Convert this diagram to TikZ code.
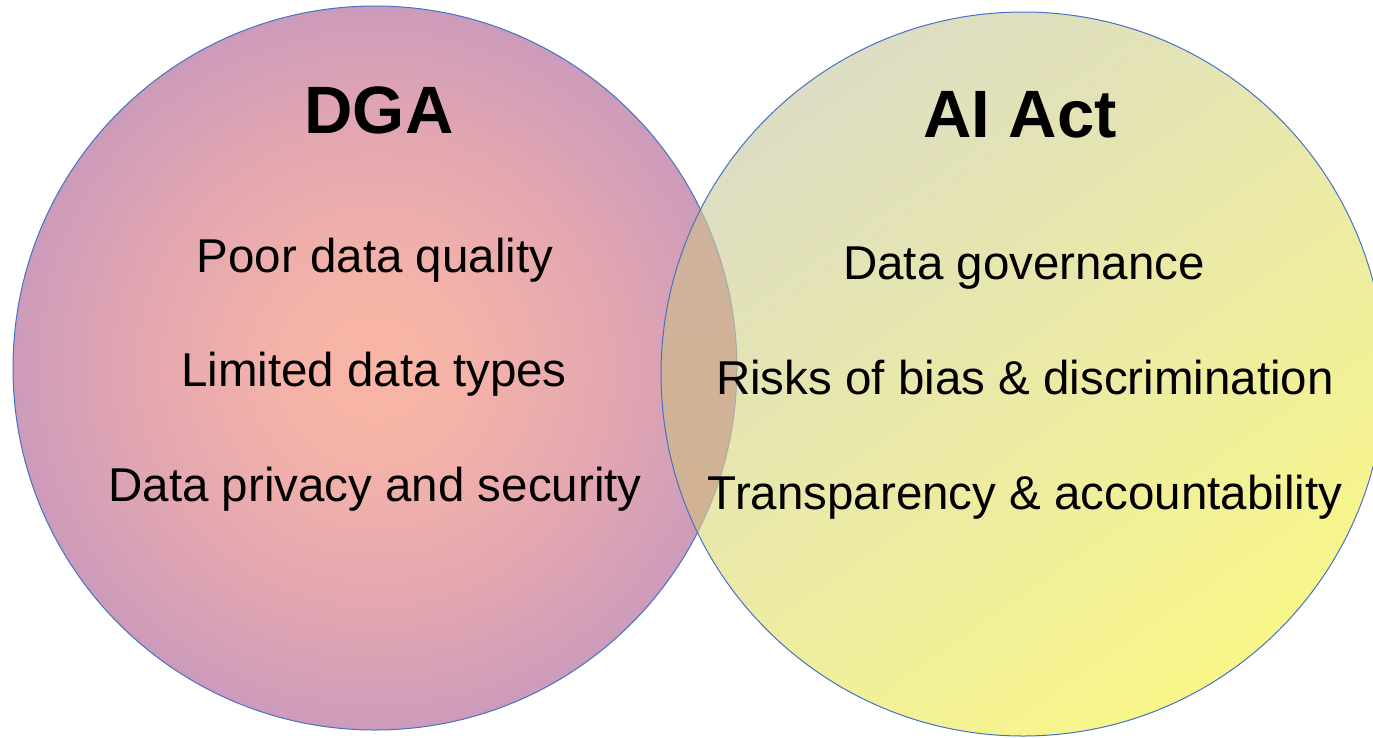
\documentclass[tikz,border=0pt]{standalone}
\usepackage{fontspec}
\setmainfont{Liberation Sans}
\definecolor{bordblue}{RGB}{68,114,196}
\definecolor{pinkin}{RGB}{249,182,166}
\definecolor{pinkmidA}{RGB}{245,179,168}
\definecolor{pinkmidB}{RGB}{228,167,176}
\definecolor{pinkout}{RGB}{205,155,186}
\definecolor{yelA}{RGB}{219,219,200}
\definecolor{yelB}{RGB}{250,248,134}
\definecolor{lensA}{RGB}{203,178,164}
\definecolor{lensB}{RGB}{212,178,138}
\pgfdeclareradialshading{dgashade}{\pgfpoint{0bp}{0bp}}{color(0bp)=(pinkin); color(6bp)=(pinkmidA); color(16bp)=(pinkmidB); color(25bp)=(pinkout); color(50bp)=(pinkout)}
\pgfdeclarehorizontalshading{aishade}{100bp}{color(0bp)=(yelA); color(22bp)=(yelA); color(78bp)=(yelB); color(100bp)=(yelB)}
\tikzset{
  vennline/.style={draw=bordblue, line width=1pt},
  titletext/.style={anchor=base, font=\bfseries\fontsize{67}{70}\selectfont},
  itemtext/.style={anchor=base, font=\fontsize{47.5}{50}\selectfont}
}
\begin{document}
\begin{tikzpicture}[x=1pt,y=-1pt]
\useasboundingbox (0,0) rectangle (1373,737);
\clip (0,0) rectangle (1373,737);
\coordinate (cL) at (375,368);
\coordinate (cR) at (1023,374);
% left circle
\shade[shading=dgashade] (cL) circle[radius=362pt];
\draw[vennline] (cL) circle[radius=362pt];
% right circle
\shade[shading=aishade, shading angle=-55] (cR) circle[radius=362pt];
% lens
\begin{scope}
  \clip (cL) circle[radius=362pt];
  \shade[top color=lensA, bottom color=lensB] (cR) circle[radius=362pt];
\end{scope}
\begin{scope}
  \clip (cR) circle[radius=362pt];
  \draw[draw=bordblue, line width=1pt, draw opacity=0.3] (cL) circle[radius=362pt];
\end{scope}
\draw[vennline] (cR) circle[radius=362pt];
% texts
\node[titletext] (dga) at (379,133) {DGA};
\node[titletext] (aiact) at (1020,137) {AI Act};
\node[itemtext] (l1) at (375,272) {Poor data quality};
\node[itemtext] (l2) at (374,386) {Limited data types};
\node[itemtext] (l3) at (375,501) {Data privacy and security};
\node[itemtext] (r1) at (1024,279) {Data governance};
\node[itemtext] (r2) at (1025,394) {Risks of bias \& discrimination};
\node[itemtext] (r3) at (1025,509) {Transparency \& accountability};
\end{tikzpicture}
\end{document}
